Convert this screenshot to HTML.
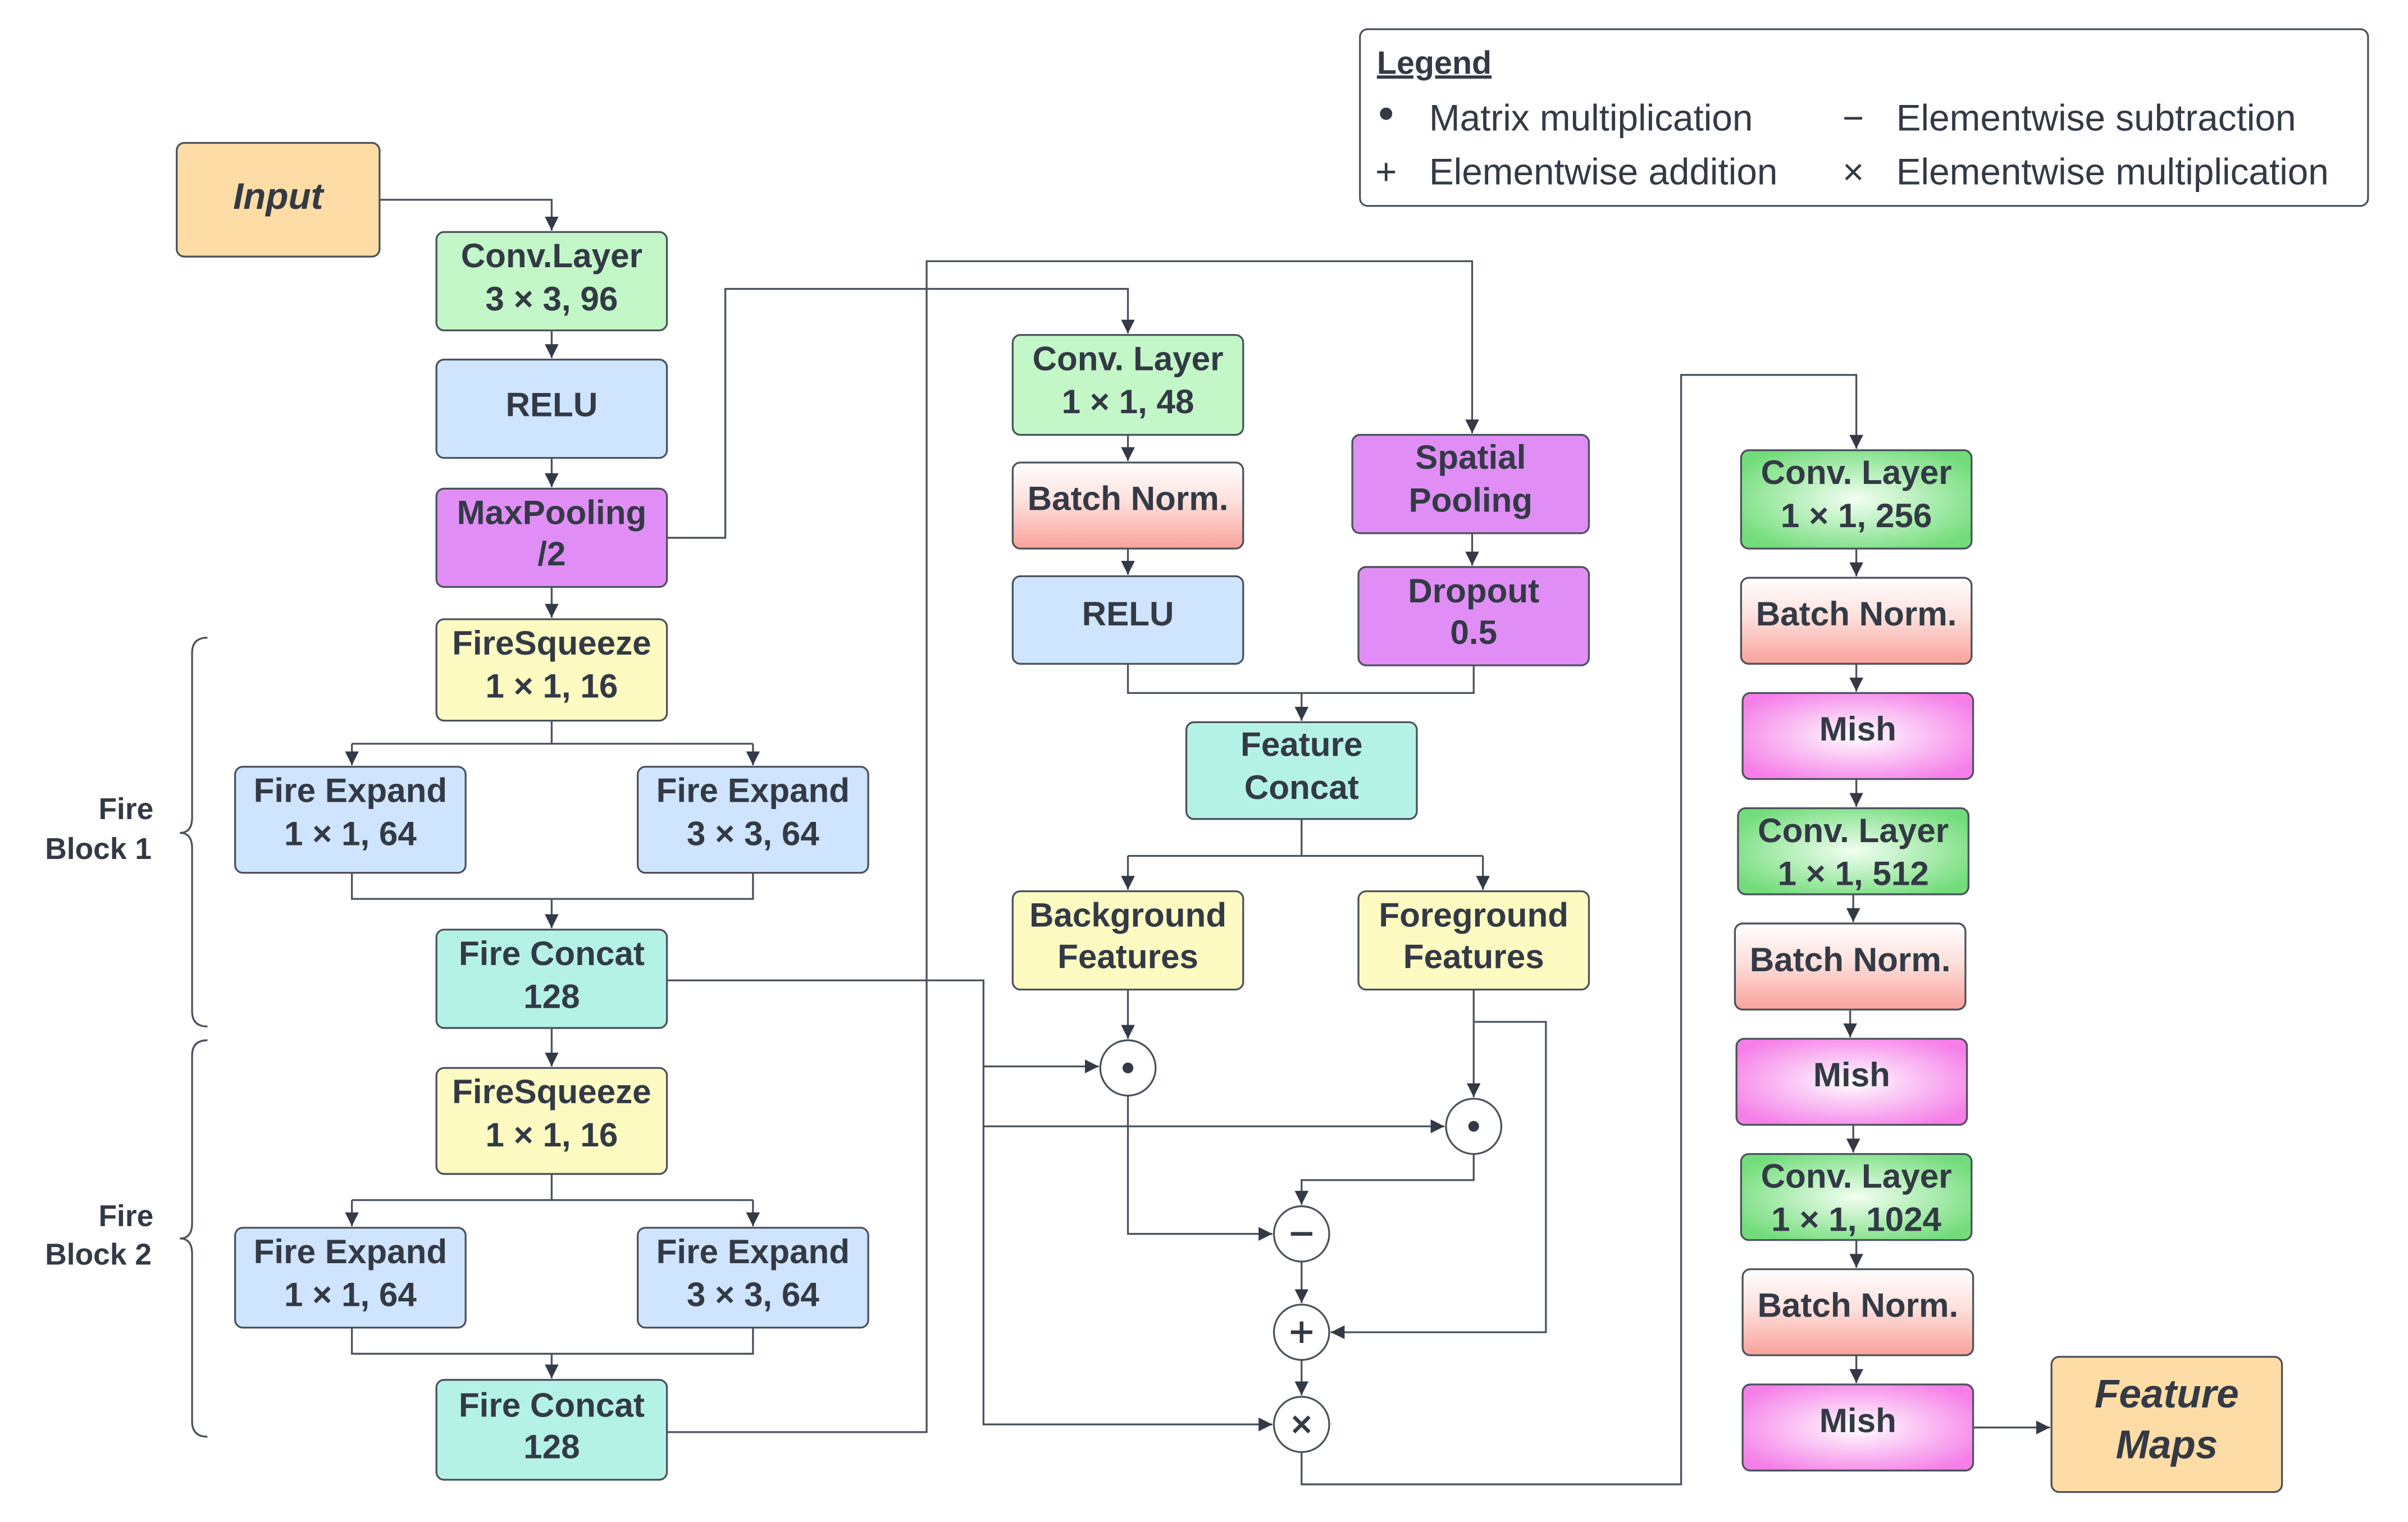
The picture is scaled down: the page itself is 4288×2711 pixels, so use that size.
<!DOCTYPE html>
<html><head><meta charset="utf-8"><style>
html,body{margin:0;padding:0;background:#fff}
svg{display:block}
text{font-family:"Liberation Sans",sans-serif;fill:#333a45}
.b{font-weight:bold;font-size:22px;text-anchor:middle}
.l{font-size:24px}
</style></head><body>
<svg width="4288" height="2711" viewBox="0 0 1567 990.5" preserveAspectRatio="none" xmlns="http://www.w3.org/2000/svg">
<defs>
<marker id="a" markerWidth="10" markerHeight="10" refX="9" refY="5" orient="auto" markerUnits="userSpaceOnUse"><path d="M0,0.5 L9,5 L0,9.5 z" fill="#333a45"/></marker>
<linearGradient id="bn" x1="0" y1="0" x2="0" y2="1"><stop offset="0" stop-color="#ffffff"/><stop offset="0.45" stop-color="#fde0dc"/><stop offset="1" stop-color="#f9a29a"/></linearGradient>
<radialGradient id="mi" cx="0.5" cy="0.5" r="0.6"><stop offset="0" stop-color="#ffffff"/><stop offset="1" stop-color="#f57ee8"/></radialGradient>
<radialGradient id="cg" cx="0.5" cy="0.5" r="0.6"><stop offset="0" stop-color="#f2fff2"/><stop offset="1" stop-color="#72dc7a"/></radialGradient>
</defs>
<g stroke="#4a525c" stroke-width="1.2">
<rect x="115" y="93" width="132" height="74" rx="5" fill="#fddca6"/>
<rect x="284" y="151" width="150" height="64" rx="5" fill="#c3f7c8"/>
<rect x="284" y="234" width="150" height="64" rx="5" fill="#cfe4fe"/>
<rect x="284" y="318" width="150" height="64" rx="5" fill="#e08ef6"/>
<rect x="284" y="403" width="150" height="66" rx="5" fill="#fdfbc2"/>
<rect x="153" y="499" width="150" height="69" rx="5" fill="#cfe4fe"/>
<rect x="415" y="499" width="150" height="69" rx="5" fill="#cfe4fe"/>
<rect x="284" y="605" width="150" height="64" rx="5" fill="#b5f2e6"/>
<rect x="284" y="695" width="150" height="69" rx="5" fill="#fdfbc2"/>
<rect x="153" y="799" width="150" height="65" rx="5" fill="#cfe4fe"/>
<rect x="415" y="799" width="150" height="65" rx="5" fill="#cfe4fe"/>
<rect x="284" y="898" width="150" height="65" rx="5" fill="#b5f2e6"/>
<rect x="659" y="218" width="150" height="65" rx="5" fill="#c3f7c8"/>
<rect x="659" y="301" width="150" height="56" rx="5" fill="url(#bn)"/>
<rect x="659" y="375" width="150" height="57" rx="5" fill="#cfe4fe"/>
<rect x="880" y="283" width="154" height="64" rx="5" fill="#e08ef6"/>
<rect x="884" y="369" width="150" height="64" rx="5" fill="#e08ef6"/>
<rect x="772" y="470" width="150" height="63" rx="5" fill="#b5f2e6"/>
<rect x="659" y="580" width="150" height="64" rx="5" fill="#fdfbc2"/>
<rect x="884" y="580" width="150" height="64" rx="5" fill="#fdfbc2"/>
<rect x="1133" y="293" width="150" height="64" rx="5" fill="url(#cg)"/>
<rect x="1133" y="376" width="150" height="56" rx="5" fill="url(#bn)"/>
<rect x="1134" y="451" width="150" height="56" rx="5" fill="url(#mi)"/>
<rect x="1131" y="526" width="150" height="56" rx="5" fill="url(#cg)"/>
<rect x="1129" y="601" width="150" height="56" rx="5" fill="url(#bn)"/>
<rect x="1130" y="676" width="150" height="56" rx="5" fill="url(#mi)"/>
<rect x="1133" y="751" width="150" height="56" rx="5" fill="url(#cg)"/>
<rect x="1134" y="826" width="150" height="56" rx="5" fill="url(#bn)"/>
<rect x="1134" y="901" width="150" height="56" rx="5" fill="url(#mi)"/>
<rect x="1335" y="883" width="150" height="88" rx="5" fill="#fddca6"/>
<rect x="885" y="19" width="656" height="115" rx="5" fill="#fff"/>
</g>
<g fill="none" stroke="#4a525c" stroke-width="1.2">
<path d="M247,130 H359 V150" marker-end="url(#a)"/>
<path d="M359,215 V233" marker-end="url(#a)"/>
<path d="M359,298 V317" marker-end="url(#a)"/>
<path d="M359,382 V402" marker-end="url(#a)"/>
<path d="M434,350 H472 V188 H734 V217" marker-end="url(#a)"/>
<path d="M359,469 V484 M229,484 H490"/>
<path d="M229,484 V498" marker-end="url(#a)"/>
<path d="M490,484 V498" marker-end="url(#a)"/>
<path d="M229,568 V585 H490 V568"/>
<path d="M359,585 V604" marker-end="url(#a)"/>
<path d="M359,669 V694" marker-end="url(#a)"/>
<path d="M359,764 V781 M229,781 H490"/>
<path d="M229,781 V798" marker-end="url(#a)"/>
<path d="M490,781 V798" marker-end="url(#a)"/>
<path d="M229,864 V881 H490 V864"/>
<path d="M359,881 V897" marker-end="url(#a)"/>
<path d="M434,638 H640 V927 H828" marker-end="url(#a)"/>
<path d="M640,694 H715" marker-end="url(#a)"/>
<path d="M640,733 H940" marker-end="url(#a)"/>
<path d="M434,932 H603 V170 H958 V282" marker-end="url(#a)"/>
<path d="M734,283 V300" marker-end="url(#a)"/>
<path d="M734,357 V374" marker-end="url(#a)"/>
<path d="M958,347 V368" marker-end="url(#a)"/>
<path d="M734,432 V451 H959 V433"/>
<path d="M847,451 V469" marker-end="url(#a)"/>
<path d="M847,533 V557 M734,557 H965"/>
<path d="M734,557 V579" marker-end="url(#a)"/>
<path d="M965,557 V579" marker-end="url(#a)"/>
<path d="M734,644 V676" marker-end="url(#a)"/>
<path d="M734,713 V803 H828" marker-end="url(#a)"/>
<path d="M959,644 V714" marker-end="url(#a)"/>
<path d="M959,665 H1006 V867 H866" marker-end="url(#a)"/>
<path d="M959,751 V768 H847 V784" marker-end="url(#a)"/>
<path d="M847,821 V848" marker-end="url(#a)"/>
<path d="M847,885 V908" marker-end="url(#a)"/>
<path d="M847,945 V966 H1094 V244 H1208 V292" marker-end="url(#a)"/>
<path d="M1208,357 V375" marker-end="url(#a)"/>
<path d="M1208,432 V450" marker-end="url(#a)"/>
<path d="M1208,507 V525" marker-end="url(#a)"/>
<path d="M1206,582 V600" marker-end="url(#a)"/>
<path d="M1204,657 V675" marker-end="url(#a)"/>
<path d="M1206,732 V750" marker-end="url(#a)"/>
<path d="M1208,807 V825" marker-end="url(#a)"/>
<path d="M1208,882 V900" marker-end="url(#a)"/>
<path d="M1284,929 H1334" marker-end="url(#a)"/>
<path d="M135,415 Q125,415 125,425 V532 Q125,542 117,542 Q125,542 125,552 V658 Q125,668 135,668"/>
<path d="M135,677 Q125,677 125,687 V796 Q125,806 117,806 Q125,806 125,816 V925 Q125,935 135,935"/>
</g>
<g stroke="#4a525c" stroke-width="1.2" fill="#fff">
<circle cx="734" cy="695" r="18"/><circle cx="959" cy="733" r="18"/>
<circle cx="847" cy="803" r="18"/><circle cx="847" cy="867" r="18"/><circle cx="847" cy="927" r="18"/>
</g>
<g fill="#333a45"><circle cx="734" cy="695" r="3.5"/><circle cx="959" cy="733" r="3.5"/></g>
<g stroke="#333a45" stroke-width="2.4">
<path d="M840,803 H854"/><path d="M840,867 H854 M847,860 V874"/><path d="M842,922 L852,932 M852,922 L842,932"/>
</g>
<text class="b" x="181" y="136" style="font-style:italic;font-size:24px">Input</text>
<text class="b" x="359" y="174">Conv.Layer</text><text class="b" x="359" y="202">3 × 3, 96</text>
<text class="b" x="359" y="271">RELU</text>
<text class="b" x="359" y="341">MaxPooling</text><text class="b" x="359" y="368">/2</text>
<text class="b" x="359" y="426">FireSqueeze</text><text class="b" x="359" y="454">1 × 1, 16</text>
<text class="b" x="228" y="522">Fire Expand</text><text class="b" x="228" y="550">1 × 1, 64</text>
<text class="b" x="490" y="522">Fire Expand</text><text class="b" x="490" y="550">3 × 3, 64</text>
<text class="b" x="359" y="628">Fire Concat</text><text class="b" x="359" y="656">128</text>
<text class="b" x="359" y="718">FireSqueeze</text><text class="b" x="359" y="746">1 × 1, 16</text>
<text class="b" x="228" y="822">Fire Expand</text><text class="b" x="228" y="850">1 × 1, 64</text>
<text class="b" x="490" y="822">Fire Expand</text><text class="b" x="490" y="850">3 × 3, 64</text>
<text class="b" x="359" y="922">Fire Concat</text><text class="b" x="359" y="949">128</text>
<text class="b" x="82" y="533" style="font-size:19.5px">Fire</text><text class="b" x="64" y="559" style="font-size:19.5px">Block 1</text>
<text class="b" x="82" y="798" style="font-size:19.5px">Fire</text><text class="b" x="64" y="823" style="font-size:19.5px">Block 2</text>
<text class="b" x="734" y="241">Conv. Layer</text><text class="b" x="734" y="269">1 × 1, 48</text>
<text class="b" x="734" y="332">Batch Norm.</text>
<text class="b" x="734" y="407">RELU</text>
<text class="b" x="957" y="305">Spatial</text><text class="b" x="957" y="333">Pooling</text>
<text class="b" x="959" y="392">Dropout</text><text class="b" x="959" y="419">0.5</text>
<text class="b" x="847" y="492">Feature</text><text class="b" x="847" y="520">Concat</text>
<text class="b" x="734" y="603">Background</text><text class="b" x="734" y="630">Features</text>
<text class="b" x="959" y="603">Foreground</text><text class="b" x="959" y="630">Features</text>
<text class="b" x="1208" y="315">Conv. Layer</text><text class="b" x="1208" y="343">1 × 1, 256</text>
<text class="b" x="1208" y="407">Batch Norm.</text>
<text class="b" x="1209" y="482">Mish</text>
<text class="b" x="1206" y="548">Conv. Layer</text><text class="b" x="1206" y="576">1 × 1, 512</text>
<text class="b" x="1204" y="632">Batch Norm.</text>
<text class="b" x="1205" y="707">Mish</text>
<text class="b" x="1208" y="773">Conv. Layer</text><text class="b" x="1208" y="801">1 × 1, 1024</text>
<text class="b" x="1209" y="857">Batch Norm.</text>
<text class="b" x="1209" y="932">Mish</text>
<text class="b" x="1410" y="916" style="font-style:italic;font-size:26px">Feature</text><text class="b" x="1410" y="949" style="font-style:italic;font-size:26px">Maps</text>
<text x="896" y="48" style="font-weight:bold;font-size:21px;text-decoration:underline">Legend</text>
<circle cx="902" cy="74" r="4" fill="#333a45"/>
<text class="l" x="930" y="85">Matrix multiplication</text>
<text class="l" x="1199" y="85">−</text>
<text class="l" x="1234" y="85">Elementwise subtraction</text>
<text class="l" x="895" y="120">+</text>
<text class="l" x="930" y="120">Elementwise addition</text>
<text class="l" x="1199" y="120">×</text>
<text class="l" x="1234" y="120">Elementwise multiplication</text>
</svg>
</body></html>
